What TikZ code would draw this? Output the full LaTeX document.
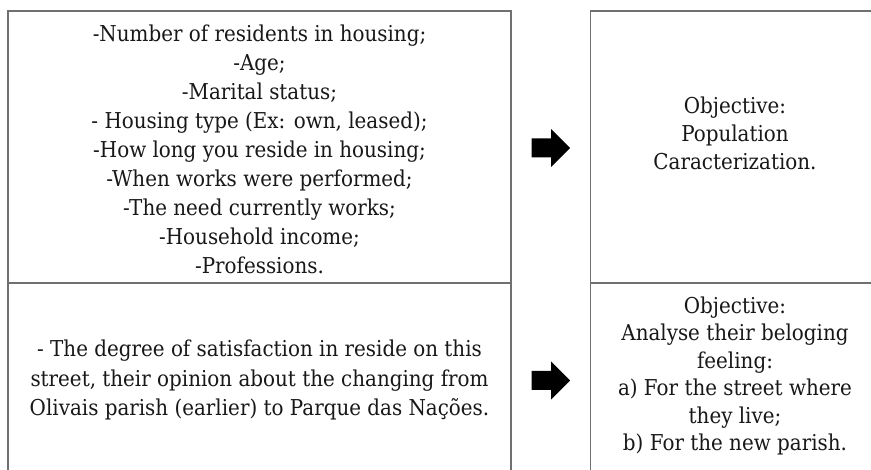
\documentclass[tikz,border=0pt]{standalone}
\usepackage{fontspec}
\setmainfont{DejaVu Serif}[FakeStretch=0.91]
\newlength{\reflen}
\definecolor{boxgray}{RGB}{112,112,112}
\definecolor{txtcol}{RGB}{24,24,24}
\AtBeginDocument{%
  \settowidth{\reflen}{\fontsize{10pt}{12pt}\selectfont street, their opinion about the changing from}%
  \pgfmathsetmacro{\fs}{10*458/\reflen}%
  \xdef\fs{\fs}%
}
\begin{document}
\begin{tikzpicture}[x=1pt,y=-1pt]
\tikzset{
  boxline/.style={draw=boxgray, line width=1.3pt},
  txt/.style={align=center, inner sep=0pt, text=txtcol, font=\fontsize{\fs pt}{#1 pt}\selectfont},
  blockarrow/.pic={\fill[black] (-19.3,-9.5) -- (0,-9.5) -- (0,-19) -- (19,0) -- (0,19) -- (0,9.5) -- (-19.3,9.5) -- cycle;}
}
\clip (0,0) rectangle (871,470);
\fill[white] (0,0) rectangle (871,470);
% boxes
\draw[boxline] (8,490) -- (8,11) -- (511,11) -- (511,490);
\draw[boxline] (8,283) -- (511,283);
\draw[boxline] (590.7,490) -- (590.7,11) -- (890,11);
\draw[boxline] (590.7,283) -- (890,283);
% texts
\node[txt=29] (lt) at (259.5,149) {-Number of residents in housing;\\-Age;\\-Marital status;\\- Housing type (Ex: own, leased);\\-How long you reside in housing;\\-When works were performed;\\-The need currently works;\\-Household income;\\-Professions.};
\node[txt=28] (rt) at (735,133) {Objective:\\Population\\Caracterization.};
\node[txt=29.5] (lb) at (259.5,380) {- The degree of satisfaction in reside on this\\street, their opinion about the changing from\\Olivais parish (earlier) to Parque das Nações.};
\node[txt=27.5] (rb) at (735,376) {Objective:\\Analyse their beloging\\feeling:\\a) For the street where\\they live;\\b) For the new parish.};
% arrows
\pic (a1) at (551,148) {blockarrow};
\pic (a2) at (551,380.5) {blockarrow};
\end{tikzpicture}
\end{document}
